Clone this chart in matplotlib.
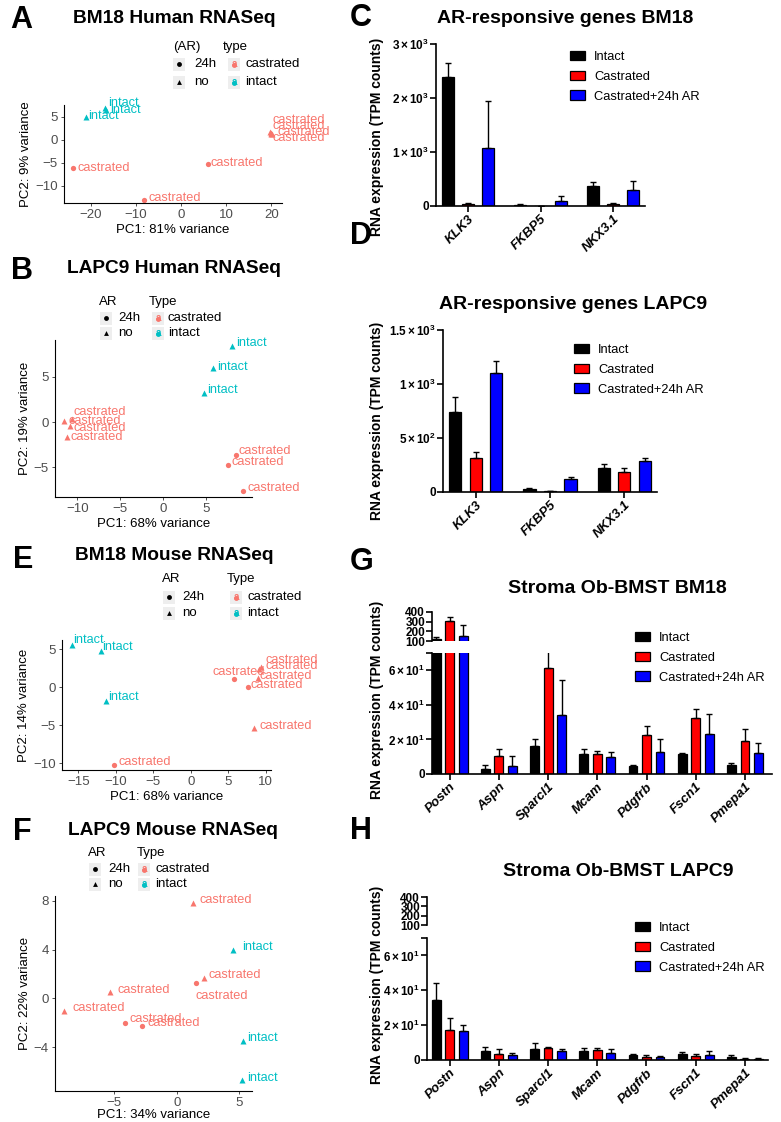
import numpy as np
import matplotlib.pyplot as plt
from matplotlib.patches import Rectangle

plt.rcParams['font.family'] = ['Liberation Sans', 'DejaVu Sans']
plt.rcParams['mathtext.fontset'] = 'custom'
plt.rcParams['mathtext.rm'] = 'Liberation Sans'
plt.rcParams['mathtext.bf'] = 'Liberation Sans:bold'
plt.rcParams['mathtext.it'] = 'Liberation Sans:italic'

W, H = 781, 1122
CAST = '#F8766D'
INT = '#00BFC4'

# ---------------- PCA data ----------------
a_pc1 = [-21.2, -17.0, -16.6, -23.9, 5.9, -8.2, 19.9, 20.0, 19.8, 20.1]
a_pc2 = [5.1, 6.9, 6.6, -6.2, -5.3, -13.0, 1.3, 1.6, 1.8, 1.4]
a_ar = ['no'] * 3 + ['24h'] * 3 + ['no'] * 4
a_type = ['intact'] * 3 + ['castrated'] * 7
a_lab_x = [-20.6, -16.2, -15.8, -23.1, 6.6, -7.3, 20.2, 20.2, 21.3, 20.2]
a_lab_y = [5.2, 8.0, 6.5, -6.1, -5.1, -12.6, 4.3, 3.0, 1.7, 0.4]

b_pc1 = [8.0, 5.8, 4.7, -11.5, -10.6, -10.8, -11.2, 8.4, 7.5, 9.3]
b_pc2 = [8.4, 6.0, 3.2, 0.1, 0.4, -0.4, -1.7, -3.6, -4.7, -7.6]
b_ar = ['no'] * 7 + ['24h'] * 3
b_type = ['intact'] * 3 + ['castrated'] * 7
b_lab_x = [8.5, 6.2, 5.1, -10.5, -11.0, -10.5, -10.8, 8.7, 7.9, 9.8]
b_lab_y = [8.8, 6.1, 3.6, 1.1, 0.1, -0.6, -1.6, -3.2, -4.4, -7.3]

e_pc1 = [-15.8, -12.0, -11.3, -10.2, 5.7, 7.6, 9.3, 9.1, 8.9, 8.4]
e_pc2 = [5.5, 4.8, -1.8, -10.3, 1.1, 0.0, 2.7, 2.4, 1.2, -5.4]
e_ar = ['no'] * 3 + ['24h'] * 3 + ['no'] * 4
e_type = ['intact'] * 3 + ['castrated'] * 7
e_lab_x = [-15.7, -11.9, -11.0, -9.7, 2.9, 8.0, 9.9, 10.0, 9.2, 9.1]
e_lab_y = [6.2, 5.3, -1.3, -9.9, 2.0, 0.3, 3.6, 2.8, 1.4, -5.1]

f_pc1 = [4.5, 5.3, 5.2, 1.3, 2.2, -5.3, -9.0, 1.5, -4.1, -2.8]
f_pc2 = [4.0, -3.5, -6.7, 7.8, 1.7, 0.5, -1.0, 1.3, -2.0, -2.3]
f_ar = ['no'] * 7 + ['24h'] * 3
f_type = ['intact'] * 3 + ['castrated'] * 7
f_lab_x = [5.2, 5.6, 5.6, 1.8, 2.5, -4.7, -8.3, 1.5, -3.8, -2.3]
f_lab_y = [4.2, -3.25, -6.5, 8.1, 1.9, 0.7, -0.8, 0.2, -1.7, -2.0]

# ---------------- bar data ----------------
series = ['Intact', 'Castrated', 'Castrated+24h AR']
bar_cols = ['black', '#FF0000', '#0000FF']

ar_genes = ['KLK3', 'FKBP5', 'NKX3.1']
c_intact = [2380, 25, 376]
c_intact_err = [275, 10, 62]
c_cast = [40, 5, 35]
c_cast_err = [20, 3, 15]
c_ar24 = [1080, 87, 296]
c_ar24_err = [860, 98, 173]

d_intact = [741, 25, 225]
d_intact_err = [136, 8, 37]
d_cast = [312, 8, 185]
d_cast_err = [61, 4, 37]
d_ar24 = [1099, 117, 284]
d_ar24_err = [111, 22, 31]

st_genes = ['Postn', 'Aspn', 'Sparcl1', 'Mcam', 'Pdgfrb', 'Fscn1', 'Pmepa1']
g_intact = [125, 3.0, 16.4, 11.6, 4.4, 11.4, 5.0]
g_intact_err = [20, 2.0, 3.6, 2.7, 0.9, 0.6, 1.3]
g_cast = [308, 10.7, 61.5, 11.4, 22.3, 32.4, 19.0]
g_cast_err = [41, 3.6, 15, 1.7, 5.5, 5.3, 7.3]
g_ar24 = [151, 4.4, 33.9, 9.7, 13.0, 23.4, 12.0]
g_ar24_err = [113, 6.1, 20.4, 3.1, 7.0, 11.5, 5.7]

h_intact = [34.7, 5.3, 6.5, 5.0, 3.0, 3.2, 1.9]
h_intact_err = [9.5, 1.9, 3.4, 2.0, 0.6, 1.2, 0.8]
h_cast = [17.5, 3.4, 6.7, 5.7, 1.9, 2.1, 0.4]
h_cast_err = [6.7, 2.7, 0.9, 1.0, 1.0, 1.5, 0.7]
h_ar24 = [16.8, 2.9, 5.0, 4.2, 1.5, 2.7, 0.8]
h_ar24_err = [3.2, 0.9, 1.5, 1.9, 0.8, 2.3, 0.3]


fig = plt.figure(figsize=(W / 100, H / 100), dpi=100)


def box(x0, y0, x1, y1):
    return [x0 / W, 1 - y1 / H, (x1 - x0) / W, (y1 - y0) / H]


ov = fig.add_axes([0, 0, 1, 1])
ov.set_xlim(0, W)
ov.set_ylim(H, 0)
ov.axis('off')


def pca_panel(rect, pc1, pc2, ar, typ, lx, ly, xlim, ylim, xt, yt, xlab, ylab, xpad=2):
    ax = fig.add_axes(box(*rect))
    for x, y, a, t in zip(pc1, pc2, ar, typ):
        col = CAST if t == 'castrated' else INT
        mk = 'o' if a == '24h' else '^'
        ax.plot(x, y, marker=mk, color=col, ms=4.2 if mk == '^' else 3.8,
                mec='none', clip_on=False)
    for x, y, t in zip(lx, ly, typ):
        col = CAST if t == 'castrated' else INT
        ax.text(x, y, t, color=col, fontsize=9.2, ha='left', va='center')
    ax.set_xlim(*xlim)
    ax.set_ylim(*ylim)
    ax.set_xticks(xt)
    ax.set_yticks(yt)
    for s in ('top', 'right'):
        ax.spines[s].set_visible(False)
    for s in ('left', 'bottom'):
        ax.spines[s].set_linewidth(0.8)
    ax.tick_params(length=2.5, width=0.6, color='#333333', labelcolor='#4D4D4D',
                   labelsize=9.5, pad=2)
    ax.set_xlabel(xlab, fontsize=9.5, labelpad=xpad)
    ax.set_ylabel(ylab, fontsize=9.5, labelpad=2)
    return ax


def pca_legend(ar_title, type_title, tx1, kx1, lx1, tx2, kx2, lx2, yh, y1, y2):
    fs = 9.5
    ov.text(tx1, yh, ar_title, fontsize=fs, va='center', ha='left')
    ov.text(tx2, yh, type_title, fontsize=fs, va='center', ha='left')
    for yy, lab, mk in ((y1, '24h', 'o'), (y2, 'no', '^')):
        ov.add_patch(Rectangle((kx1, yy - 6.5), 12, 13, color='#EEEEEE', lw=0))
        ov.plot(kx1 + 6, yy, marker=mk, color='black', ms=3.5, mec='none')
        ov.text(lx1, yy, lab, fontsize=fs, va='center', ha='left')
    for yy, lab, col in ((y1, 'castrated', CAST), (y2, 'intact', INT)):
        ov.add_patch(Rectangle((kx2, yy - 6.5), 12, 13, color='#EEEEEE', lw=0))
        ov.plot(kx2 + 6, yy + 1, marker='o', color=col, ms=3.5, mec='none')
        ov.text(kx2 + 6, yy, 'a', color=col, fontsize=7, fontweight='bold',
                ha='center', va='center')
        ov.text(lx2, yy, lab, fontsize=fs, va='center', ha='left')


# ---------------- PCA panels ----------------
pca_panel((64, 105, 282, 203), a_pc1, a_pc2, a_ar, a_type, a_lab_x, a_lab_y,
          (-26, 22.4), (-13.7, 7.6), [-20, -10, 0, 10, 20], [-10, -5, 0, 5],
          'PC1: 81% variance', 'PC2: 9% variance')
pca_legend('(AR)', 'type', 173, 173, 194, 223, 228, 245, 47, 64, 82)

pca_panel((55, 340, 252, 497), b_pc1, b_pc2, b_ar, b_type, b_lab_x, b_lab_y,
          (-12.6, 10.3), (-8.3, 9.1), [-10, -5, 0, 5], [-5, 0, 5],
          'PC1: 68% variance', 'PC2: 19% variance')
pca_legend('AR', 'Type', 99, 100, 118, 149, 152, 168, 302, 318, 333)

pca_panel((62, 640, 271, 770), e_pc1, e_pc2, e_ar, e_type, e_lab_x, e_lab_y,
          (-17.2, 10.7), (-10.9, 6.2), [-15, -10, -5, 0, 5, 10], [-10, -5, 0, 5],
          'PC1: 68% variance', 'PC2: 14% variance')
pca_legend('AR', 'Type', 162, 163, 182, 227, 230, 247, 579, 597, 613)

pca_panel((55, 896, 252, 1091), f_pc1, f_pc2, f_ar, f_type, f_lab_x, f_lab_y,
          (-9.7, 6.0), (-7.6, 8.4), [-5, 0, 5], [-4, 0, 4, 8],
          'PC1: 34% variance', 'PC2: 22% variance', xpad=-0.5)
pca_legend('AR', 'Type', 88, 89, 108, 137, 138, 155, 853, 869, 884)

# PCA titles and panel letters
pca_titles = ['BM18 Human RNASeq', 'LAPC9 Human RNASeq', 'BM18 Mouse RNASeq',
              'LAPC9 Mouse RNASeq']
for t, x, y in zip(pca_titles, [73, 67, 75, 68], [18, 268, 555, 830]):
    ov.text(x, y, t, fontsize=13.8, fontweight='bold', ha='left', va='center')
for l, x, y in zip('ABEF', [10, 11, 13, 13], [20, 271, 560, 832]):
    ov.text(x, y, l, fontsize=22, fontweight='bold', ha='left', va='center')


# ---------------- bar panels ----------------
def draw_bars(ax, n, vals, errs, width, off):
    x = np.arange(n)
    for k, (v, e, col, lab) in enumerate(zip(vals, errs, bar_cols, series)):
        xs = x + (k - 1) * off
        ax.bar(xs, v, width=width, color=col, edgecolor='black', lw=0.9,
               label=lab, zorder=2)
        ax.errorbar(xs, v, yerr=[np.zeros(n), e], fmt='none', ecolor='black',
                    elinewidth=1.0, capsize=2.5, capthick=1.0, zorder=3)


def style_bar_ax(ax, bottom=True):
    for s in ('top', 'right'):
        ax.spines[s].set_visible(False)
    for s in ('left', 'bottom'):
        ax.spines[s].set_linewidth(1.2)
    ax.tick_params(axis='y', direction='out', length=4, width=1.2, labelsize=8.5, pad=1)
    ax.tick_params(axis='x', direction='out', length=4, width=1.2, pad=1)
    for t in ax.get_yticklabels():
        t.set_fontweight('bold')
    if not bottom:
        ax.spines['bottom'].set_visible(False)
        ax.set_xticks([])


def xlabels(ax, genes):
    ax.set_xticks(np.arange(len(genes)))
    ax.set_xticklabels(genes, rotation=45, ha='right', va='top',
                       rotation_mode='anchor', fontsize=9.5,
                       fontweight='bold', style='italic')


def bar_legend(ax, x, y):
    ax.legend(loc='upper left', bbox_to_anchor=(x / W, 1 - y / H),
              bbox_transform=fig.transFigure, frameon=False, fontsize=9.3,
              handlelength=1.15, handleheight=0.75, handletextpad=0.7,
              labelspacing=0.58, borderpad=0, borderaxespad=0)


def sci(m, e):
    return r'$\mathbf{' + m + r'\times10^{' + e + '}}$'


# C
axc = fig.add_axes(box(436, 44, 645, 206))
draw_bars(axc, 3, [c_intact, c_cast, c_ar24], [c_intact_err, c_cast_err, c_ar24_err],
          0.166, 0.276)
axc.set_xlim(-0.44, 2.44)
axc.set_ylim(0, 3000)
axc.set_yticks([0, 1000, 2000, 3000])
axc.set_yticklabels(['0', sci('1', '3'), sci('2', '3'), sci('3', '3')])
xlabels(axc, ar_genes)
style_bar_ax(axc)
bar_legend(axc, 570, 51)

# D
axd = fig.add_axes(box(443, 330, 657, 492))
draw_bars(axd, 3, [d_intact, d_cast, d_ar24], [d_intact_err, d_cast_err, d_ar24_err],
          0.166, 0.276)
axd.set_xlim(-0.44, 2.44)
axd.set_ylim(0, 1500)
axd.set_yticks([0, 500, 1000, 1500])
axd.set_yticklabels(['0', sci('5', '2'), sci('1', '3'), sci('1.5', '3')])
xlabels(axd, ar_genes)
style_bar_ax(axd)
bar_legend(axd, 574, 344)


def broken(up, lo, xlim, vals, errs, leg_y):
    axu = fig.add_axes(box(*up))
    axl = fig.add_axes(box(*lo))
    for ax in (axu, axl):
        draw_bars(ax, 7, vals, errs, 0.18, 0.274)
        ax.set_xlim(*xlim)
    axu.set_ylim(100, 400)
    axu.set_yticks([100, 200, 300, 400])
    axu.set_yticklabels(['100', '200', '300', '400'])
    axl.set_ylim(0, 70)
    axl.set_yticks([0, 20, 40, 60, 70])
    axl.set_yticklabels(['0', sci('2', '1'), sci('4', '1'), sci('6', '1'), ''])
    xlabels(axl, st_genes)
    style_bar_ax(axu, bottom=False)
    style_bar_ax(axl)
    bar_legend(axl, 635, leg_y)
    return axu, axl


broken((432, 612, 772, 641), (432, 653, 772, 774), (-0.36, 6.55),
       [g_intact, g_cast, g_ar24], [g_intact_err, g_cast_err, g_ar24_err], 632)
broken((427, 897, 768, 925), (427, 938, 768, 1060), (-0.46, 6.47),
       [h_intact, h_cast, h_ar24], [h_intact_err, h_cast_err, h_ar24_err], 922)

bar_titles = ['AR-responsive genes BM18', 'AR-responsive genes LAPC9',
              'Stroma Ob-BMST BM18', 'Stroma Ob-BMST LAPC9']
for t, x, y in zip(bar_titles, [437, 439, 508, 503], [18, 304, 588, 871]):
    ov.text(x, y, t, fontsize=14, fontweight='bold', ha='left', va='center')
for l, x, y in zip('CDGH', [350, 350, 350, 350], [18, 236, 562, 831]):
    ov.text(x, y, l, fontsize=22, fontweight='bold', ha='left', va='center')
for x, y in zip([377, 377, 377, 377], [137, 421, 700, 985]):
    ov.text(x, y, 'RNA expression (TPM counts)', fontsize=10, fontweight='bold',
            rotation=90, ha='center', va='center')

fig.savefig('out.png', dpi=100)
